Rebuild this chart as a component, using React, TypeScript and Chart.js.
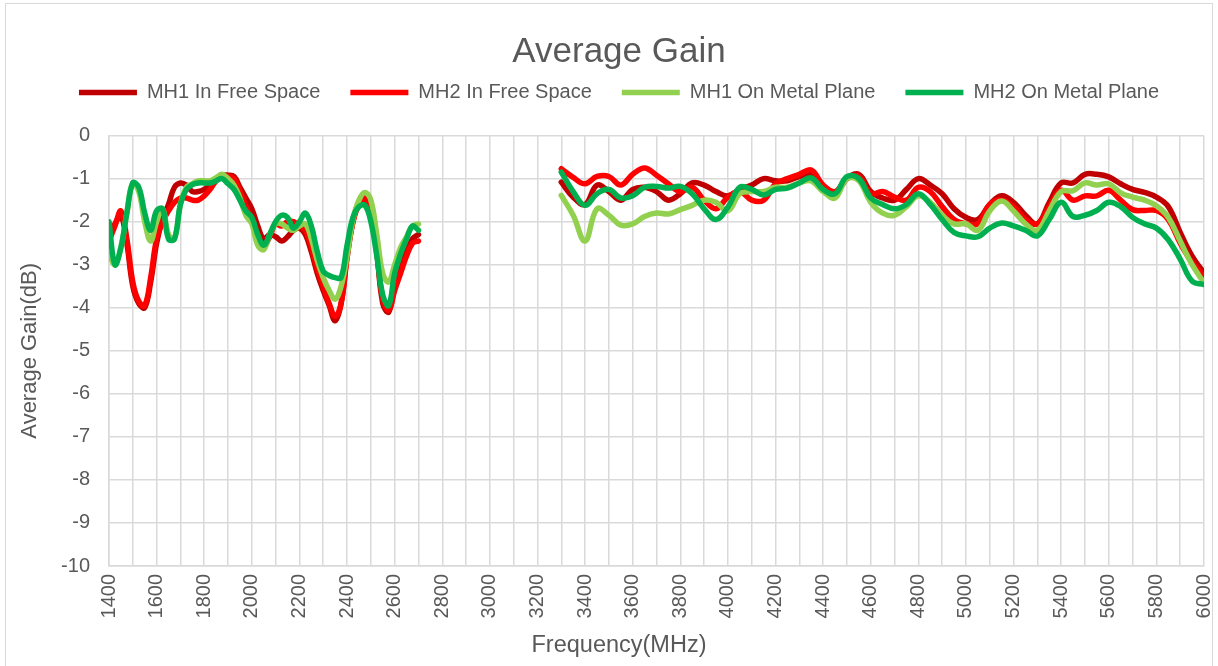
import React, { useEffect, useRef } from 'react';
import { Chart, registerables } from 'chart.js';

Chart.register(...registerables);

const range = (a: number, b: number, s: number) => {
  const r: number[] = [];
  for (let v = a; v <= b; v += s) r.push(v);
  return r;
};

// Frequencies (MHz)
const lowFreq = range(1400, 2700, 25); // 53 points
const highFreq = range(3300, 6000, 50); // 55 points

// MH1 In Free Space
const mh1FreeLow = [
  -2.3, -2.05, -1.85, -2.5, -3.5, -3.9, -4.0, -3.4, -2.5, -1.95,
  -1.6, -1.2, -1.1, -1.15, -1.3, -1.3, -1.25, -1.15, -1.0, -0.92,
  -0.92, -0.95, -1.2, -1.45, -1.7, -2.1, -2.4, -2.3, -2.35, -2.45,
  -2.35, -2.2, -2.15, -2.3, -2.7, -3.2, -3.6, -3.95, -4.3, -3.9,
  -2.8, -2.0, -1.55, -1.5, -1.75, -2.7, -3.9, -4.1, -3.5, -3.0,
  -2.7, -2.4, -2.3,
];
const mh1FreeHigh = [
  -1.08, -1.43, -1.6, -1.15, -1.3, -1.5, -1.25, -1.2, -1.3, -1.5,
  -1.35, -1.1, -1.15, -1.3, -1.4, -1.25, -1.15, -1.0, -1.05, -1.05,
  -0.95, -0.9, -1.2, -1.35, -1.0, -0.9, -1.3, -1.45, -1.5, -1.25,
  -1.0, -1.15, -1.35, -1.7, -1.9, -1.95, -1.6, -1.4, -1.55, -1.85,
  -2.05, -1.55, -1.1, -1.1, -0.9, -0.9, -0.96, -1.12, -1.25, -1.32,
  -1.43, -1.65, -2.25, -2.8, -3.19,
];

// MH2 In Free Space
const mh2FreeLow = [
  -2.45, -2.1, -1.75, -2.4, -3.4, -3.85, -3.95, -3.3, -2.4, -2.0,
  -1.75, -1.55, -1.45, -1.45, -1.5, -1.5, -1.4, -1.25, -1.05, -0.95,
  -0.95, -1.0, -1.3, -1.65, -1.95, -2.3, -2.55, -2.35, -2.05, -2.1,
  -2.0, -2.0, -2.1, -2.2, -2.6, -3.1, -3.5, -3.9, -4.2, -3.9,
  -2.85, -2.0, -1.6, -1.45, -1.75, -2.7, -3.8, -4.05, -3.6, -3.2,
  -2.8, -2.5, -2.45,
];
const mh2FreeHigh = [
  -0.77, -0.97, -1.12, -0.95, -0.95, -1.15, -0.9, -0.75, -0.92, -1.12,
  -1.3, -1.2, -1.5, -1.7, -1.43, -1.3, -1.5, -1.5, -1.12, -1.0,
  -0.9, -0.8, -1.15, -1.3, -1.0, -0.95, -1.35, -1.3, -1.43, -1.5,
  -1.2, -1.3, -1.65, -1.95, -2.05, -2.05, -1.6, -1.5, -1.65, -1.95,
  -2.05, -1.65, -1.27, -1.5, -1.4, -1.4, -1.27, -1.5, -1.72, -1.74,
  -1.74, -1.95, -2.5, -2.95, -3.27,
];

// MH1 On Metal Plane
const mh1MetalLow = [
  -2.75, -3.0, -2.6, -1.8, -1.1, -1.3, -2.0, -2.45, -2.0, -1.7,
  -2.3, -2.4, -1.6, -1.2, -1.12, -1.05, -1.05, -1.05, -0.98, -0.9,
  -1.0, -1.15, -1.45, -1.85, -2.05, -2.55, -2.65, -2.3, -2.05, -2.05,
  -2.15, -2.2, -2.1, -2.05, -2.4, -2.9, -3.3, -3.6, -3.8, -3.5,
  -2.8, -1.95, -1.5, -1.32, -1.5, -2.3, -3.2, -3.4, -3.0, -2.6,
  -2.35, -2.1, -2.05,
];
const mh1MetalHigh = [
  -1.39, -1.85, -2.45, -1.7, -1.85, -2.08, -2.05, -1.88, -1.8, -1.82,
  -1.72, -1.62, -1.5, -1.55, -1.75, -1.35, -1.3, -1.3, -1.2, -1.2,
  -1.1, -1.05, -1.3, -1.45, -1.0, -1.05, -1.55, -1.8, -1.85, -1.65,
  -1.4, -1.55, -1.85, -2.05, -2.05, -2.2, -1.75, -1.52, -1.75, -2.05,
  -2.2, -1.75, -1.3, -1.28, -1.1, -1.15, -1.12, -1.33, -1.43, -1.5,
  -1.63, -1.9, -2.45, -3.0, -3.42,
];

// MH2 On Metal Plane
const mh2MetalLow = [
  -2.0, -3.0, -2.6, -1.8, -1.1, -1.2, -1.8, -2.2, -1.75, -1.7,
  -2.4, -2.4, -1.6, -1.25, -1.14, -1.1, -1.1, -1.1, -1.05, -1.0,
  -1.12, -1.25, -1.5, -1.75, -1.9, -2.3, -2.55, -2.3, -2.0, -1.85,
  -1.9, -2.15, -2.0, -1.8, -2.1, -2.7, -3.15, -3.25, -3.3, -3.3,
  -2.55, -1.9, -1.65, -1.62, -2.0, -2.8, -3.7, -3.95, -3.2, -2.75,
  -2.4, -2.1, -2.2,
];
const mh2MetalHigh = [
  -0.85, -1.3, -1.62, -1.35, -1.25, -1.45, -1.4, -1.2, -1.18, -1.22,
  -1.18, -1.35, -1.7, -1.95, -1.66, -1.2, -1.25, -1.38, -1.25, -1.22,
  -1.1, -0.98, -1.25, -1.35, -0.95, -1.0, -1.45, -1.6, -1.7, -1.6,
  -1.35, -1.6, -1.95, -2.25, -2.33, -2.35, -2.15, -2.03, -2.1, -2.2,
  -2.33, -1.95, -1.55, -1.88, -1.85, -1.74, -1.55, -1.65, -1.9, -2.05,
  -2.15, -2.42, -2.87, -3.38, -3.46,
];

const seriesNames = ['MH1 In Free Space', 'MH2 In Free Space', 'MH1 On Metal Plane', 'MH2 On Metal Plane'];
const seriesColors = ['#C00000', '#FF0000', '#92D050', '#00B050'];
const seriesLow = [mh1FreeLow, mh2FreeLow, mh1MetalLow, mh2MetalLow];
const seriesHigh = [mh1FreeHigh, mh2FreeHigh, mh1MetalHigh, mh2MetalHigh];

const FONT = 'Liberation Sans, Arial, sans-serif';
const TEXT = '#595959';
const GRID = '#d9d9d9';

const buildPoints = (low: number[], high: number[]) => {
  const pts: { x: number; y: number | null }[] = [];
  lowFreq.forEach((f, i) => pts.push({ x: f, y: low[i] }));
  pts.push({ x: 3000, y: null });
  highFreq.forEach((f, i) => pts.push({ x: f, y: high[i] }));
  return pts;
};

export default function App() {
  const ref = useRef<HTMLCanvasElement | null>(null);

  useEffect(() => {
    document.body.style.margin = '0';
    const canvas = ref.current;
    if (!canvas) return;
    const chart = new Chart(canvas, {
      type: 'line',
      data: {
        datasets: seriesNames.map((name, i) => ({
          label: name,
          data: buildPoints(seriesLow[i], seriesHigh[i]),
          borderColor: seriesColors[i],
          backgroundColor: seriesColors[i],
          borderWidth: 5.5,
          borderCapStyle: 'round',
          borderJoinStyle: 'round',
          pointRadius: 0,
          tension: 0.4,
          spanGaps: false,
          fill: false,
          order: 4 - i,
          xAxisID: 'x',
          yAxisID: 'y',
        })),
      },
      options: {
        animation: false,
        responsive: false,
        devicePixelRatio: 1,
        layout: { padding: { left: 20, right: 0, top: 0, bottom: 0 } },
        plugins: {
          title: {
            display: true,
            text: 'Average Gain',
            color: TEXT,
            font: { family: FONT, size: 35, weight: 'normal' },
            padding: { top: 31, bottom: -20.4 },
          },
          subtitle: {
            display: true,
            text: 'Frequency(MHz)',
            position: 'bottom',
            color: TEXT,
            font: { family: FONT, size: 23.5, weight: 'normal' },
            padding: { top: 0, bottom: 6 },
          },
          legend: {
            display: true,
            position: 'top',
            labels: {
              usePointStyle: true,
              pointStyle: 'line',
              pointStyleWidth: 58,
              padding: 30,
              color: TEXT,
              font: { family: FONT, size: 20 },
              sort: (a: any, b: any) => a.datasetIndex - b.datasetIndex,
            },
          },
          tooltip: { enabled: false },
        },
        scales: {
          x: {
            type: 'linear',
            position: 'bottom',
            min: 1400,
            max: 6000,
            ticks: {
              stepSize: 100,
              autoSkip: false,
              maxRotation: 90,
              minRotation: 90,
              padding: 8,
              color: TEXT,
              font: { family: FONT, size: 20 },
              callback: (v: any) => (Number(v) % 200 === 0 ? String(v) : ''),
            },
            grid: { color: GRID, lineWidth: 1.5, drawTicks: false },
            border: { color: GRID, width: 1.5 },
            afterFit: (s: any) => {
              s.height = 65.8;
              s.paddingLeft = 0;
              s.paddingRight = 14;
            },
          },
          xTop: {
            type: 'linear',
            axis: 'x',
            position: 'top',
            display: true,
            min: 1400,
            max: 6000,
            grid: { display: false, drawTicks: false },
            border: { display: false },
            ticks: { display: false },
            afterFit: (s: any) => {
              s.height = 23;
              s.paddingLeft = 0;
              s.paddingRight = 14;
            },
          },
          y: {
            type: 'linear',
            min: -10,
            max: 0,
            ticks: {
              stepSize: 1,
              padding: 19,
              color: TEXT,
              font: { family: FONT, size: 20 },
            },
            grid: { color: GRID, lineWidth: 1.5, drawTicks: false },
            border: { color: GRID, width: 1.5 },
            title: {
              display: true,
              text: 'Average Gain(dB)',
              color: TEXT,
              font: { family: FONT, size: 22 },
              padding: { top: -3, bottom: 0 },
            },
            afterFit: (s: any) => {
              s.width = 89;
            },
          },
        },
      } as any,
    });
    return () => chart.destroy();
  }, []);

  return (
    <div style={{ position: 'relative', width: 1218, height: 666, overflow: 'hidden', background: '#fff' }}>
      <div
        style={{
          position: 'absolute',
          left: 5,
          top: 3,
          width: 1208,
          height: 680,
          border: '1px solid #d9d9d9',
          boxSizing: 'border-box',
        }}
      />
      <canvas ref={ref} width={1218} height={666} style={{ position: 'absolute', left: 0, top: 0 }} />
    </div>
  );
}
